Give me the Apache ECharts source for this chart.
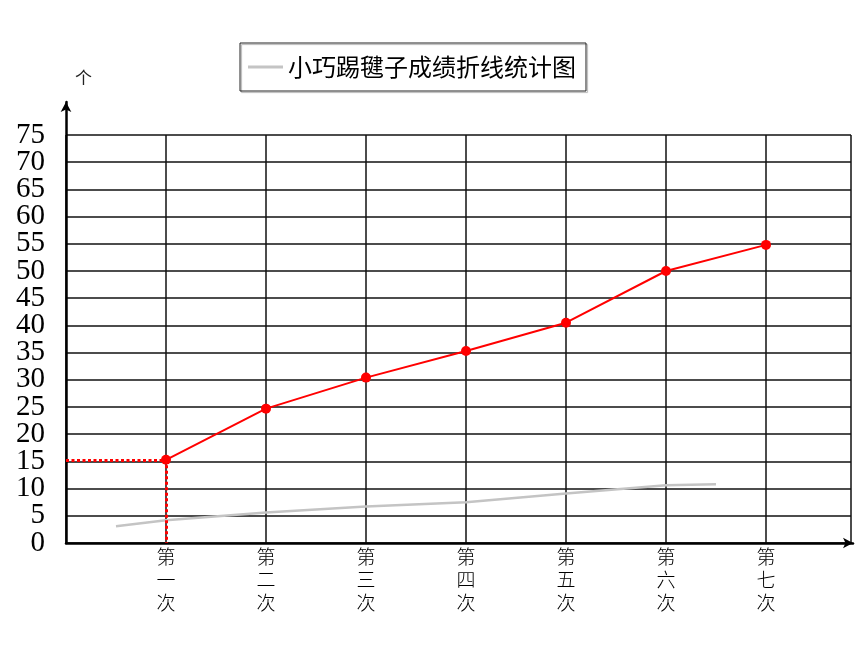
<!DOCTYPE html>
<html>
<head>
<meta charset="utf-8">
<script src="https://cdn.jsdelivr.net/npm/echarts@6/dist/echarts.min.js"></script>
<style>html,body{margin:0;padding:0;background:#fff}#c{width:860px;height:645px}</style>
</head>
<body>
<div id="c"></div>
<script>
const categories = ['第一次','第二次','第三次','第四次','第五次','第六次','第七次'];
const redValues = [15.3, 24.7, 30.4, 35.3, 40.5, 50, 54.8];
const grayX = [0.5, 1, 2, 3, 4, 5, 6, 6.5];
const grayValues = [3.1, 4.2, 5.6, 6.7, 7.5, 9.1, 10.6, 10.8];
const yTickLabels = ['0','5','10','15','20','25','30','35','40','45','50','55','60','65','70','75'];
const yRange = {min: 0, max: 75};
const legendName = '小巧踢毽子成绩折线统计图';
const unitLabel = '个';

const chart = echarts.init(document.getElementById('c'), null, {renderer: 'canvas'});
const redData = redValues.map((v, i) => [i + 1, v]);
const grayData = grayX.map((x, i) => [x, grayValues[i]]);

chart.setOption({
  animation: false,
  backgroundColor: '#fff',
  title: {
    text: unitLabel, left: 70, top: 64,
    textStyle: {fontSize: 17, fontWeight: 'normal', color: '#222', fontFamily: 'Noto Sans CJK SC'}
  },
  legend: {
    data: [{name: legendName, icon: 'rect'}],
    left: 240, top: 43,
    padding: [10, 10, 10, 8],
    itemWidth: 35, itemHeight: 3, itemGap: 5,
    borderColor: '#222', borderWidth: 1,
    shadowColor: 'rgba(0,0,0,0.3)', shadowOffsetX: 1.5, shadowOffsetY: 1.5, shadowBlur: 1,
    textStyle: {fontSize: 24, lineHeight: 28, color: '#000', fontFamily: 'Noto Sans CJK SC'}
  },
  grid: [
    {left: 66, right: 9, top: 135, bottom: 102},
    {left: 66, right: 7, top: 102, bottom: 102}
  ],
  xAxis: [
    {
      type: 'value', gridIndex: 0, min: 0, max: 7.85, interval: 1,
      axisLine: {show: false}, axisTick: {show: false},
      splitLine: {show: true, lineStyle: {color: '#111', width: 1.5}},
      axisLabel: {
        margin: 2, fontSize: 19, lineHeight: 23, color: '#000',
        fontFamily: 'Noto Sans CJK SC', fontWeight: 300,
        showMinLabel: true, showMaxLabel: true,
        formatter: function (v) {
          const i = Math.round(v);
          if (Math.abs(v - i) > 1e-6 || i < 1 || i > categories.length) return '';
          return categories[i - 1].split('').join('\n');
        }
      }
    },
    {
      type: 'value', gridIndex: 1, min: 0, max: 1,
      axisLine: {show: true, symbol: ['none', 'arrow'], symbolSize: [8, 10], lineStyle: {color: '#000', width: 2.5}},
      axisTick: {show: false}, axisLabel: {show: false}, splitLine: {show: false}
    }
  ],
  yAxis: [
    {
      type: 'category', gridIndex: 0, data: yTickLabels, boundaryGap: false, position: 'left',
      axisLine: {show: false}, axisTick: {show: false},
      splitLine: {show: true, interval: 0, lineStyle: {color: '#111', width: 1.5}},
      axisLabel: {
        interval: 0, margin: 21, fontSize: 29, color: '#000',
        fontFamily: '"Liberation Serif", serif'
      }
    },
    {
      type: 'value', gridIndex: 0, min: yRange.min, max: yRange.max, position: 'right',
      axisLine: {show: false}, axisTick: {show: false}, axisLabel: {show: false}, splitLine: {show: false}
    },
    {
      type: 'value', gridIndex: 1, min: 0, max: 1,
      axisLine: {show: true, symbol: ['none', 'arrow'], symbolSize: [8, 10], lineStyle: {color: '#000', width: 2.5}},
      axisTick: {show: false}, axisLabel: {show: false}, splitLine: {show: false}
    }
  ],
  series: [
    {
      name: legendName, type: 'line', xAxisIndex: 0, yAxisIndex: 1,
      data: grayData, symbol: 'none', silent: true,
      lineStyle: {color: '#c4c4c4', width: 2.5},
      itemStyle: {color: '#c4c4c4'}
    },
    {
      name: '成绩', type: 'line', xAxisIndex: 0, yAxisIndex: 1,
      data: redData, symbol: 'circle', symbolSize: 10,
      lineStyle: {color: '#ff0000', width: 2},
      itemStyle: {color: '#ff0000'},
      markLine: {
        silent: true, symbol: ['none', 'none'], label: {show: false},
        lineStyle: {color: '#ff0000', type: [3, 2.5], width: 3},
        data: [
          [{coord: [0, redValues[0]]}, {coord: [1, redValues[0]]}],
          [{coord: [1, redValues[0]]}, {coord: [1, 0]}]
        ]
      }
    }
  ]
});
</script>
</body>
</html>
